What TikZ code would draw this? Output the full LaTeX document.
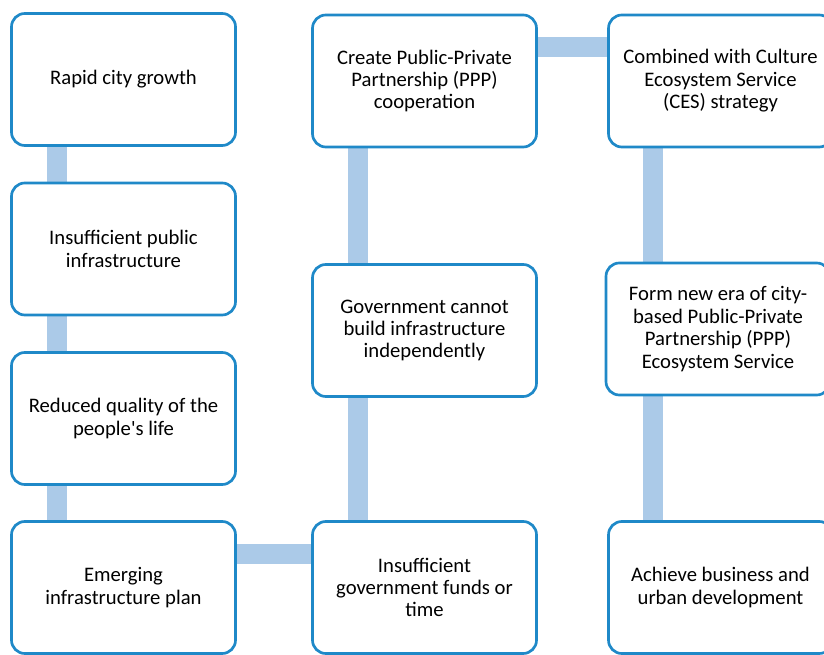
\documentclass[tikz,border=0pt]{standalone}
\usepackage{fontspec}
\setmainfont{Carlito}[Ligatures=TeXOff]
\usetikzlibrary{calc,backgrounds}

\definecolor{boxBlue}{RGB}{31,137,200}
\definecolor{linkBlue}{RGB}{171,202,232}

\tikzset{
  stepBox/.style={draw=boxBlue, line width=2pt, fill=white, rounded corners=10pt,
    minimum width=168pt, minimum height=99pt, inner sep=0pt, align=center,
    font=\fontsize{15.5}{16.8}\selectfont},
  link/.style={draw=linkBlue, line width=15pt}
}

\begin{document}
\begin{tikzpicture}[x=0.75pt, y=-0.75pt]
  \useasboundingbox (0,0) rectangle (824,655);
  \clip (0,0) rectangle (824,655);

  % first column
  \node[stepBox] (growth) at (123.5,79.5) {Rapid city growth};
  \node[stepBox] (infra)  at (123.5,249) {Insufficient public\\infrastructure};
  \node[stepBox] (life)   at (123.5,418.5) {Reduced quality of the\\people's life};
  \node[stepBox] (plan)   at (123.5,587.5) {Emerging\\infrastructure plan};

  % second column
  \node[stepBox] (ppp)    at (424.5,81) {Create Public-Private\\Partnership (PPP)\\cooperation};
  \node[stepBox] (gov)    at (424.5,330.5) {Government cannot\\build infrastructure\\independently};
  \node[stepBox] (funds)  at (424.5,587.5) {Insufficient\\government funds or\\time};

  % third column
  \node[stepBox] (ces)    at (720.5,81) {Combined with Culture\\Ecosystem Service\\(CES) strategy};
  \node[stepBox] (era)    at (718,329) {Form new era of city-\\based Public-Private\\Partnership (PPP)\\Ecosystem Service};
  \node[stepBox] (urban)  at (720.5,587.5) {Achieve business and\\urban development};

  \begin{scope}[on background layer]
    \draw[link] ($(growth.south)+(-67,0)$) -- ($(infra.north)+(-67,0)$);
    \draw[link] ($(infra.south)+(-67,0)$) -- ($(life.north)+(-67,0)$);
    \draw[link] ($(life.south)+(-67,0)$) -- ($(plan.north)+(-67,0)$);
    \draw[link] ($(plan.east)+(0,-33.5)$) -- ($(funds.west)+(0,-33.5)$);
    \draw[link] ($(funds.north)+(-67,0)$) -- ($(gov.south)+(-67,0)$);
    \draw[link] ($(gov.north)+(-67,0)$) -- ($(ppp.south)+(-67,0)$);
    \draw[link] ($(ppp.east)+(0,-33.5)$) -- ($(ces.west)+(0,-33.5)$);
    \draw[link] ($(ces.south)+(-68,0)$) -- ($(era.north)+(-65.5,0)$);
    \draw[link] ($(era.south)+(-65.5,0)$) -- ($(urban.north)+(-68,0)$);
  \end{scope}
\end{tikzpicture}
\end{document}
